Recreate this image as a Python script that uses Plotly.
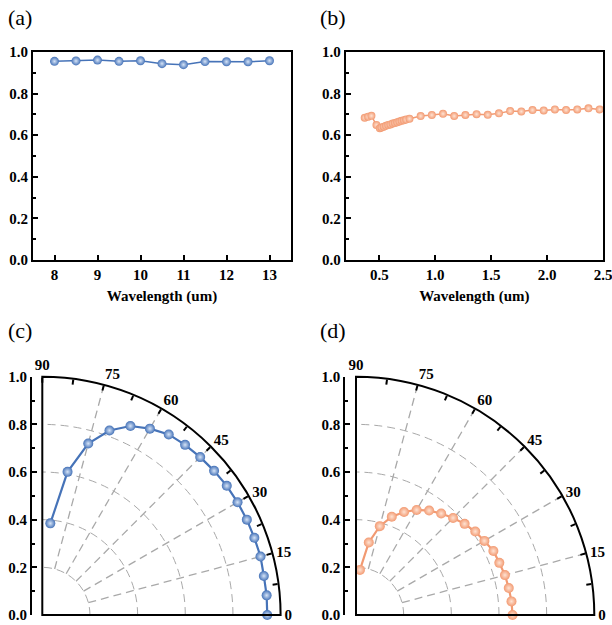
import plotly.graph_objects as go

# ---------------- data ----------------
# (a) emissivity across the 8-13 um window
wl_a = [8.0, 8.5, 9.0, 9.5, 10.0, 10.5, 11.0, 11.5, 12.0, 12.5, 13.0]
em_a = [0.955, 0.957, 0.961, 0.955, 0.958, 0.944, 0.939, 0.954, 0.953, 0.953, 0.958]

# (b) absorptivity across the solar band
wl_b = [0.37, 0.40, 0.43, 0.475, 0.505, 0.52, 0.54, 0.56, 0.58, 0.60, 0.62, 0.64,
        0.66, 0.68, 0.70, 0.72, 0.74, 0.77, 0.87, 0.97, 1.07, 1.17, 1.27, 1.37,
        1.47, 1.57, 1.67, 1.77, 1.87, 1.97, 2.07, 2.17, 2.27, 2.37, 2.47]
ab_b = [0.684, 0.689, 0.693, 0.649, 0.634, 0.637, 0.641, 0.645, 0.649, 0.652, 0.656, 0.659,
        0.662, 0.666, 0.669, 0.672, 0.675, 0.679, 0.692, 0.697, 0.703, 0.692, 0.697, 0.701,
        0.698, 0.705, 0.716, 0.714, 0.721, 0.719, 0.724, 0.721, 0.724, 0.729, 0.724]

# (c), (d) angular dependence
angles = [85, 80, 75, 70, 65, 60, 55, 50, 45, 40, 35, 30, 25, 20, 15, 10, 5, 0]
r_c = [0.386, 0.610, 0.745, 0.824, 0.875, 0.903, 0.925, 0.932, 0.937, 0.941,
       0.945, 0.946, 0.947, 0.947, 0.948, 0.944, 0.945, 0.944]
r_d = [0.190, 0.309, 0.386, 0.439, 0.477, 0.509, 0.535, 0.556, 0.576, 0.595,
       0.611, 0.622, 0.636, 0.640, 0.647, 0.651, 0.655, 0.657]

ang_ticks = [0, 7.5, 15, 22.5, 30, 37.5, 45, 52.5, 60, 67.5, 75, 82.5, 90]
ang_labels = ["0", "", "15", "", "30", "", "45", "", "60", "", "75", "", "90"]
spokes = [0, 15, 30, 45, 60, 75, 90]
panel_labels = ["(a)", "(b)", "(c)", "(d)"]

# ---------------- style ----------------
W, H = 612, 625
BLUE, BLUE_HI = "#4673b8", "#d6e4f7"
ORANGE, ORANGE_HI = "#f29a72", "#ffe3d3"
SERIF = "Liberation Serif"
tick_font = dict(family=SERIF, size=15, color="black", weight="bold")
title_font = dict(family=SERIF, size=15, color="black", weight="bold")
GRID = "#a9a9a9"


def px_x(p):
    return p / W


def px_y(p):
    return (H - p) / H


fig = go.Figure()

# (a)
fig.add_trace(go.Scatter(
    x=wl_a, y=em_a, mode="lines+markers", xaxis="x", yaxis="y",
    line=dict(color=BLUE, width=1.5),
    marker=dict(size=9, color=BLUE, gradient=dict(type="radial", color=BLUE_HI)),
    showlegend=False))

# (b)
fig.add_trace(go.Scatter(
    x=wl_b, y=ab_b, mode="lines+markers", xaxis="x2", yaxis="y2",
    line=dict(color=ORANGE, width=1.5),
    marker=dict(size=8, color=ORANGE, gradient=dict(type="radial", color=ORANGE_HI)),
    showlegend=False))

# empty traces so the left value axes of the polar panels are created
for xa, ya in (("x3", "y3"), ("x4", "y4")):
    fig.add_trace(go.Scatter(x=[0.5], y=[0.5], xaxis=xa, yaxis=ya, mode="markers",
                             marker=dict(opacity=0), hoverinfo="skip", showlegend=False))

# dashed spokes of the polar panels, starting at r = 0.2
for sub in ("polar", "polar2"):
    rr, tt = [], []
    for a in spokes:
        rr += [0.2, 1.0, None]
        tt += [a, a, None]
    fig.add_trace(go.Scatterpolar(
        r=rr, theta=tt, mode="lines", subplot=sub, hoverinfo="skip",
        line=dict(color=GRID, width=1.3, dash="8px,5px"), showlegend=False))

# (c)
fig.add_trace(go.Scatterpolar(
    r=r_c, theta=angles, mode="lines+markers", subplot="polar",
    line=dict(color=BLUE, width=2.2),
    marker=dict(size=10, color=BLUE, gradient=dict(type="radial", color=BLUE_HI)),
    showlegend=False))

# (d)
fig.add_trace(go.Scatterpolar(
    r=r_d, theta=angles, mode="lines+markers", subplot="polar2",
    line=dict(color=ORANGE, width=2.2),
    marker=dict(size=10, color=ORANGE, gradient=dict(type="radial", color=ORANGE_HI)),
    showlegend=False))

box_axis = dict(showline=True, linecolor="black", linewidth=2, mirror=True,
                ticks="inside", ticklen=5, tickwidth=2, tickcolor="black",
                tickfont=tick_font, showgrid=False, zeroline=False)
y_common = dict(box_axis, range=[0, 1], dtick=0.2, tickformat=".1f",
                minor=dict(ticks="inside", ticklen=3, tickwidth=1.5,
                           tickcolor="black", dtick=0.1))

ydom_top = [px_y(260), px_y(52)]
ydom_bot = [px_y(615), px_y(376.7)]

polar_common = dict(
    sector=[0, 90], bgcolor="rgba(0,0,0,0)",
    radialaxis=dict(range=[0, 1], tickvals=[0.2, 0.4, 0.6, 0.8],
                    showticklabels=False, ticks="", showline=False,
                    showgrid=True, gridcolor=GRID, griddash="8px,5px", gridwidth=1.3),
    angularaxis=dict(rotation=0, direction="counterclockwise",
                     tickvals=ang_ticks, ticktext=ang_labels,
                     ticks="inside", ticklen=5, tickwidth=2, tickcolor="black",
                     showline=True, linecolor="black", linewidth=2,
                     showgrid=False, tickfont=tick_font),
)

left_axis = dict(range=[0, 1], showline=True, linecolor="black", linewidth=2,
                 ticks="inside", ticklen=5, tickwidth=2, tickcolor="black",
                 dtick=0.2, tickformat=".1f", tickfont=tick_font,
                 showgrid=False, zeroline=False,
                 minor=dict(ticks="inside", ticklen=3, tickwidth=1.5,
                            tickcolor="black", dtick=0.1))

fig.update_layout(
    width=W, height=H, margin=dict(l=0, r=0, t=0, b=0, autoexpand=False),
    paper_bgcolor="white", plot_bgcolor="rgba(0,0,0,0)",
    xaxis=dict(box_axis, domain=[px_x(33), px_x(291)], range=[7.5, 13.5], dtick=1,
               anchor="y", title=dict(text="Wavelength (um)", font=title_font, standoff=8)),
    yaxis=dict(y_common, domain=ydom_top, anchor="x"),
    xaxis2=dict(box_axis, domain=[px_x(345.7), px_x(603)], range=[0.2, 2.5],
                tickvals=[0.5, 1.0, 1.5, 2.0, 2.5], tickformat=".1f", anchor="y2",
                ticklabeloverflow="allow",
                title=dict(text="Wavelength (um)", font=title_font, standoff=8)),
    yaxis2=dict(y_common, domain=ydom_top, anchor="x2"),
    xaxis3=dict(domain=[px_x(32), px_x(280)], range=[0, 1], visible=False, anchor="y3"),
    yaxis3=dict(left_axis, domain=ydom_bot, anchor="x3"),
    xaxis4=dict(domain=[px_x(345.3), px_x(594)], range=[0, 1], visible=False, anchor="y4"),
    yaxis4=dict(left_axis, domain=ydom_bot, anchor="x4"),
    polar=dict(polar_common, domain=dict(x=[px_x(42.3), px_x(280.6)], y=ydom_bot)),
    polar2=dict(polar_common, domain=dict(x=[px_x(356), px_x(594.3)], y=ydom_bot)),
)

panel_font = dict(family=SERIF, size=22, color="black")
for label, (x0, y0) in zip(panel_labels, [(6, 17), (318, 17), (6, 330), (318, 330)]):
    fig.add_annotation(text=label, x=px_x(x0), y=px_y(y0), xref="paper", yref="paper",
                       xanchor="left", yanchor="middle", showarrow=False, font=panel_font)

fig.write_html("out.html")
